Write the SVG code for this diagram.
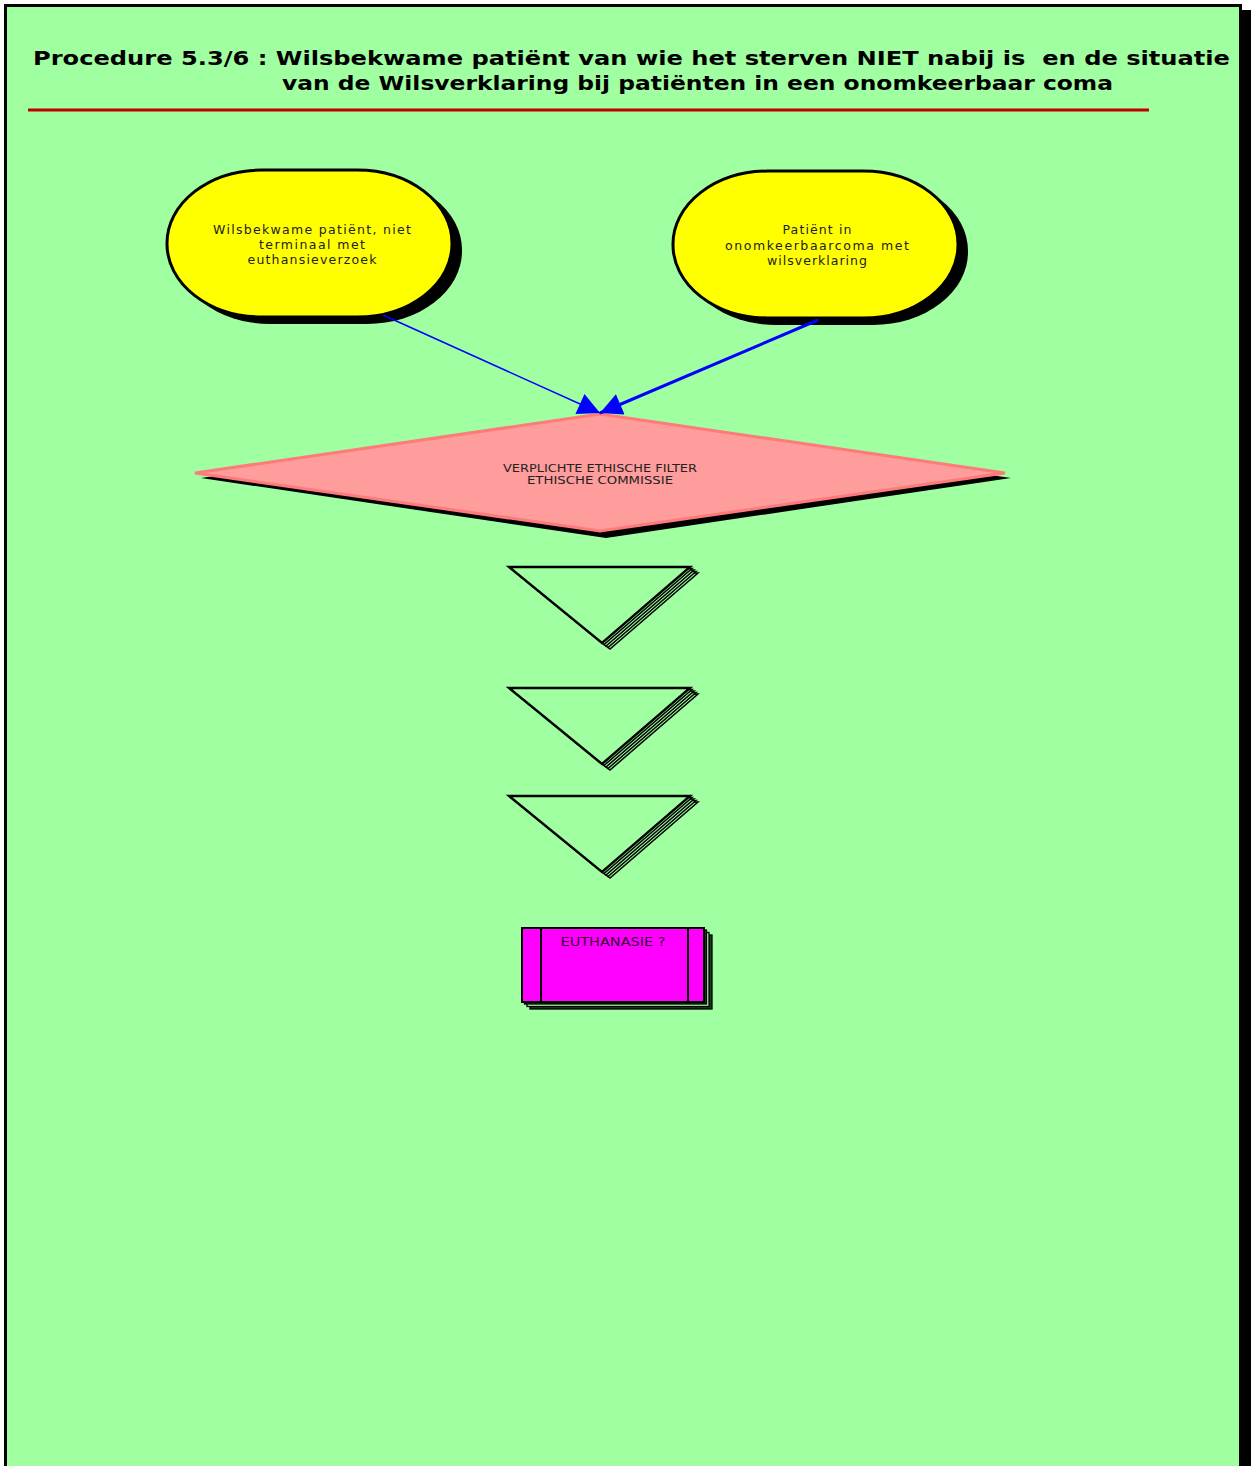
<svg xmlns="http://www.w3.org/2000/svg" width="1251" height="1466" viewBox="0 0 1251 1466">
<style>
.title{font-family:"DejaVu Sans","Liberation Sans",sans-serif;font-weight:bold;font-size:20px;fill:#000}
.lbl{font-family:"DejaVu Sans","Liberation Sans",sans-serif;font-size:12.5px;fill:#222;text-anchor:middle}
.dlbl{font-family:"DejaVu Sans","Liberation Sans",sans-serif;font-size:10.5px;fill:#222;text-anchor:middle}
.term{fill:#ffff00;stroke:#000;stroke-width:3}
.shadow{fill:#000}
.tri{fill:#a0ffa0;stroke:#000;stroke-width:2.4;stroke-linejoin:miter}
.tris{fill:#a0ffa0;stroke:#000;stroke-width:1.5}
.conn{fill:none;stroke:#0000ff}
</style>
<defs>
<marker id="arr" viewBox="0 0 10 10" refX="10" refY="5" markerWidth="30" markerHeight="22" markerUnits="userSpaceOnUse" orient="auto">
<path d="M0,0 L10,5 L0,10 z" fill="#0000ff"/>
</marker>
</defs>
<rect x="0" y="0" width="1251" height="1466" fill="#ffffff"/>
<rect x="10" y="10" width="1241" height="1466" fill="#000"/>
<rect x="5.5" y="5.5" width="1235" height="1470" fill="#a0ffa0" stroke="#000" stroke-width="3"/>
<g id="title">
<text class="title" x="33" y="65" textLength="1197" lengthAdjust="spacingAndGlyphs" xml:space="preserve">Procedure 5.3/6 : Wilsbekwame patiënt van wie het sterven NIET nabij is  en de situatie</text>
<text class="title" x="282" y="90" textLength="831" lengthAdjust="spacingAndGlyphs">van de Wilsverklaring bij patiënten in een onomkeerbaar coma</text>
<line x1="28" y1="110" x2="1149" y2="110" stroke="#c00000" stroke-width="3"/>
</g>
<g id="node-wilsbekwaam">
<rect class="shadow" x="175" y="177" width="287" height="147" rx="95" ry="73"/>
<rect class="term" x="167" y="170" width="285" height="147" rx="95" ry="73"/>
<text class="lbl" x="312" y="234" textLength="198" lengthAdjust="spacing">Wilsbekwame patiënt, niet</text>
<text class="lbl" x="312" y="249" textLength="106" lengthAdjust="spacing">terminaal met</text>
<text class="lbl" x="312" y="264" textLength="129" lengthAdjust="spacing">euthansieverzoek</text>
</g>
<g id="node-coma">
<rect class="shadow" x="681" y="178" width="287" height="147" rx="95" ry="73"/>
<rect class="term" x="673" y="171" width="285" height="147" rx="95" ry="73"/>
<text class="lbl" x="817" y="234" textLength="69" lengthAdjust="spacing">Patiënt in</text>
<text class="lbl" x="817" y="250" textLength="184" lengthAdjust="spacing">onomkeerbaarcoma met</text>
<text class="lbl" x="817" y="265" textLength="100" lengthAdjust="spacing">wilsverklaring</text>
</g>
<g id="node-filter">
<polygon class="shadow" points="201,478 606,419 1011,478 606,538"/>
<polygon points="195,473 600,414 1005,473 600,531" fill="#ff9c9c" stroke="#ff7a7a" stroke-width="3"/>
<text class="dlbl" x="600" y="472" textLength="194" lengthAdjust="spacingAndGlyphs">VERPLICHTE ETHISCHE FILTER</text>
<text class="dlbl" x="600" y="484" textLength="146" lengthAdjust="spacingAndGlyphs">ETHISCHE COMMISSIE</text>
</g>
<g id="connectors">
<line class="conn" x1="383" y1="315" x2="600" y2="413" stroke-width="1.5" marker-end="url(#arr)"/>
<line class="conn" x1="818" y1="320" x2="600" y2="413" stroke-width="3" marker-end="url(#arr)"/>
</g>
<g id="node-tri1">
<polygon class="tris" points="517,573 698,573 610,649"/>
<polygon class="tris" points="515,571.5 696,571.5 608,647.5"/>
<polygon class="tris" points="513,570 694,570 606,646"/>
<polygon class="tris" points="511,568.5 692,568.5 604,644.5"/>
<polygon class="tri" points="509,567 690,567 602,643"/>
</g>
<g id="node-tri2">
<polygon class="tris" points="517,694 698,694 610,770"/>
<polygon class="tris" points="515,692.5 696,692.5 608,768.5"/>
<polygon class="tris" points="513,691 694,691 606,767"/>
<polygon class="tris" points="511,689.5 692,689.5 604,765.5"/>
<polygon class="tri" points="509,688 690,688 602,764"/>
</g>
<g id="node-tri3">
<polygon class="tris" points="517,802 698,802 610,878"/>
<polygon class="tris" points="515,800.5 696,800.5 608,876.5"/>
<polygon class="tris" points="513,799 694,799 606,875"/>
<polygon class="tris" points="511,797.5 692,797.5 604,873.5"/>
<polygon class="tri" points="509,796 690,796 602,872"/>
</g>
<g id="node-euthanasie">
<rect x="530" y="935" width="182" height="74" fill="#1a3a1a" stroke="#000" stroke-width="1.3"/>
<rect x="527" y="932.5" width="182" height="74" fill="#a0ffa0" stroke="#000" stroke-width="1.3"/>
<rect x="524.5" y="930" width="182" height="74" fill="#1a3a1a" stroke="#000" stroke-width="1.3"/>
<rect x="522" y="928" width="182" height="74" fill="#ff00ff" stroke="#000" stroke-width="2"/>
<line x1="541" y1="928" x2="541" y2="1002" stroke="#000" stroke-width="2"/>
<line x1="688" y1="928" x2="688" y2="1002" stroke="#000" stroke-width="2"/>
<text class="lbl" x="613" y="946" textLength="105" lengthAdjust="spacingAndGlyphs" style="fill:#330033">EUTHANASIE ?</text>
</g>
</svg>
